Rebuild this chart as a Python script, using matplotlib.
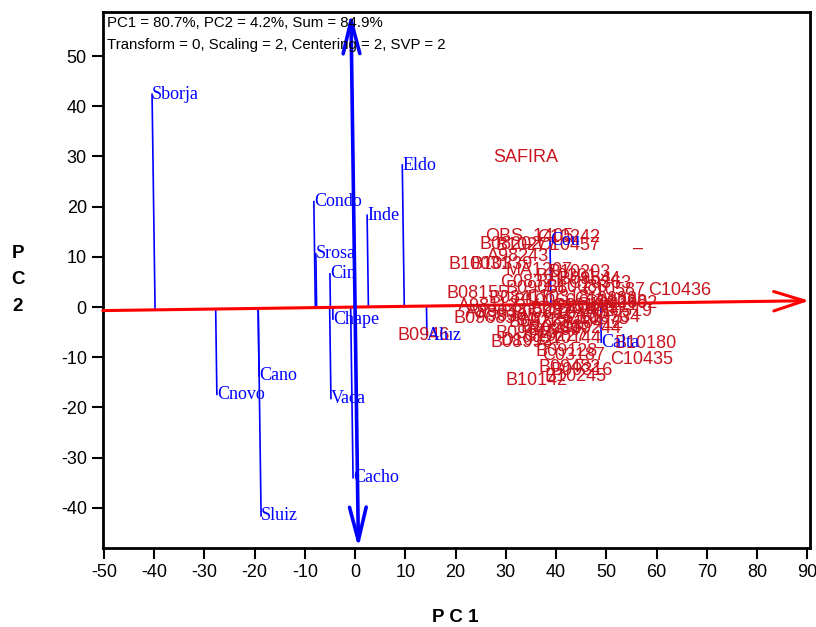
import matplotlib
matplotlib.use("Agg")
import matplotlib.pyplot as plt
import numpy as np

plt.rcParams["axes.unicode_minus"] = False

# environments (blue), PC1 / PC2 scores
env_names = ["Sborja", "Condo", "Srosa", "Cin", "Inde", "Eldo", "Chape", "Cnovo",
             "Cano", "Sluiz", "Vaca", "Cacho", "Aluz", "Cou", "Calta"]
env_x = [-40.4, -8.2, -7.8, -5.0, 2.4, 9.4, -4.4, -27.5,
         -19.1, -18.7, -4.8, -0.4, 14.3, 38.8, 49.0]
env_y = [42.4, 21.0, 10.6, 6.6, 18.3, 28.3, -2.4, -17.4,
         -13.6, -41.6, -18.2, -34.0, -5.6, 13.2, -7.0]

# genotypes (red)
gen_names = ["SAFIRA", "OBS_1405", "C10242", "B08202", "B10277", "C10457", "\u2013",
             "A98243", "B10031", "B10339", "MA1207", "B10203", "C10587", "C10436",
             "B08155", "C08321", "A98112", "B09685", "B0946", "C10244", "D10127",
             "B10180", "C10435", "B09128", "C03187", "B09482", "B09316", "B10245",
             "B10142", "C10411", "B10066", "C10318", "B09544", "A99034", "B10218",
             "C10375", "B08417", "C10519", "B09273", "B10301", "C10126", "B09915",
             "A98305", "B10157", "C10283", "B09741", "C10602", "B10412", "B09058",
             "C10490", "B10534", "C10227", "B08993", "B10088", "C10363", "B09862",
             "C10144", "B10475", "B09607", "C10298"]
gen_x = [27.5, 25.9, 36.3, 24.7, 27.9, 36.3, 55.4,
         26.3, 18.5, 22.9, 30.0, 38.5, 45.2, 58.4,
         18.1, 28.9, 20.5, 19.5, 8.4, 40.4, 28.9,
         51.6, 50.8, 35.9, 37.3, 36.5, 38.9, 37.8,
         29.9, 44.0, 31.5, 34.0, 40.5, 22.0, 33.0,
         42.0, 26.5, 46.5, 30.5, 36.0, 39.0, 28.0,
         24.0, 32.0, 43.5, 35.0, 47.5, 41.0, 30.0,
         37.5, 44.5, 33.5, 27.0, 38.0, 42.5, 31.0,
         36.5, 40.0, 34.5, 45.5]
gen_y = [29.7, 14.1, 13.9, 12.4, 12.2, 12.2, 11.8,
         10.0, 8.4, 8.4, 7.2, 6.8, 3.2, 3.2,
         2.8, 4.8, 0.2, -2.2, -5.6, -4.2, -6.6,
         -7.2, -10.4, -8.8, -9.6, -12.0, -12.6, -13.9,
         -14.7, 0.4, 1.2, 2.0, 5.4, -1.0, -4.0,
         -2.4, 1.8, -0.8, -3.0, 6.0, 0.2, -5.2,
         -1.8, -2.6, 1.6, -0.4, 0.8, -3.2, 3.6,
         -1.4, -2.0, -5.8, -7.0, 3.8, 4.6, -1.2,
         -6.2, -0.2, -4.6, 1.0]

s = 0.014  # slope of the average environment axis
fig = plt.figure(figsize=(8.16, 6.27), dpi=100)
ax = fig.add_axes([0.126, 0.126, 0.867, 0.855])
ax.set_xlim(-50.2, 90.6)
ax.set_ylim(-48.0, 58.8)

# projection lines from environments onto the axis
for x, y in zip(env_x, env_y):
    t = (x + s * y) / (1 + s * s)
    ax.plot([t, x], [s * t, y], color="blue", lw=1.2, zorder=2)

# axes of the biplot
ax.annotate("", xy=(90.4, 90.4 * s), xytext=(-50.2, -50.2 * s),
            arrowprops=dict(arrowstyle="->,head_length=1.1,head_width=0.35",
                            color="red", lw=2.2, mutation_scale=20,
                            shrinkA=0, shrinkB=0), annotation_clip=False, zorder=3)
ax.annotate("", xy=(-58.6 * s, 58.6), xytext=(48.0 * s, -48.0),
            arrowprops=dict(arrowstyle="<->,head_length=1.2,head_width=0.3",
                            color="blue", lw=2.6, mutation_scale=20,
                            shrinkA=0, shrinkB=0), annotation_clip=False, zorder=3)

for n, x, y in zip(gen_names, gen_x, gen_y):
    ax.text(x, y, n, color="#c8141e", fontsize=13, family="Liberation Sans",
            ha="left", va="center", zorder=4)
for n, x, y in zip(env_names, env_x, env_y):
    ax.text(x, y, n, color="blue", fontsize=13, family="Liberation Serif",
            ha="left", va="center", zorder=5)

ax.text(0.006, 0.992, "PC1 = 80.7%, PC2 = 4.2%, Sum = 84.9%",
        transform=ax.transAxes, fontsize=10.8, family="Liberation Sans", va="top")
ax.text(0.006, 0.952, "Transform = 0, Scaling = 2, Centering = 2, SVP = 2",
        transform=ax.transAxes, fontsize=10.8, family="Liberation Sans", va="top")

ax.set_xticks(np.arange(-50, 91, 10))
ax.set_yticks(np.arange(-40, 51, 10))
for sp in ax.spines.values():
    sp.set_linewidth(2)
ax.tick_params(length=8, width=1.5, labelsize=13)
for lab in ax.get_xticklabels() + ax.get_yticklabels():
    lab.set_family(["Liberation Sans Narrow", "Liberation Sans"])

fig.text(455 / 816, 1 - 617 / 627, "P C 1", fontsize=13.5, weight="bold",
         family="Liberation Sans", ha="center", va="center")
fig.text(18 / 816, 1 - 280 / 627, "P\nC\n2", fontsize=13.5, weight="bold",
         family="Liberation Sans", ha="center", va="center", linespacing=1.75)

fig.savefig("out.png", dpi=100)
